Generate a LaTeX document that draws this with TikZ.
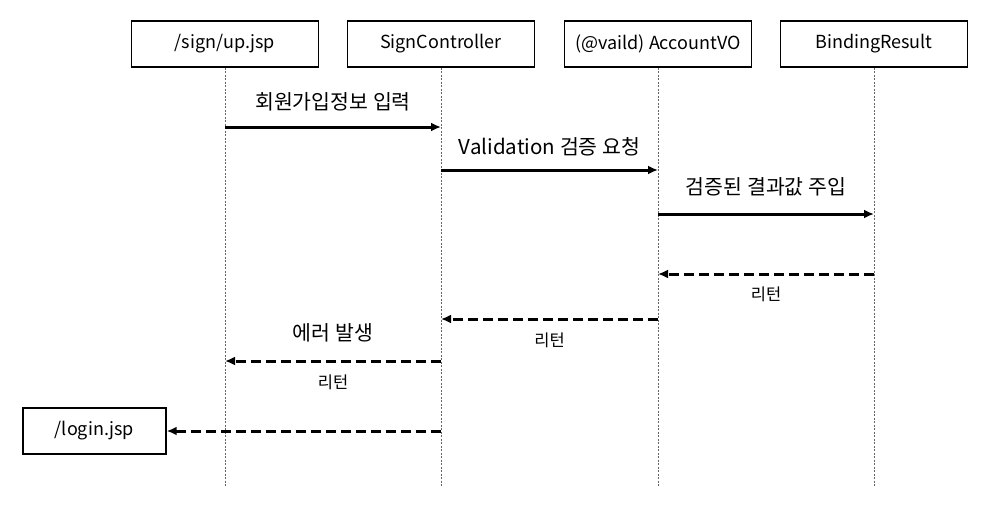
\documentclass[tikz,border=0pt]{standalone}
\usepackage{fontspec}
\setmainfont{Noto Sans CJK KR}
\usetikzlibrary{arrows.meta}
\begin{document}
\begin{tikzpicture}[x=1pt,y=1pt,
	obj/.style={draw,line width=1.4pt,minimum width=187pt,minimum height=46pt,font=\fontsize{18}{21}\selectfont},
	call/.style={line width=3pt,-{Latex[length=10pt,width=9pt]}},
	ret/.style={call,dash pattern=on 10pt off 5pt},
	msg/.style={font=\fontsize{20.5}{24}\selectfont},
	rtn/.style={font=\fontsize{16.5}{19}\selectfont},
	life/.style={draw=gray!80!black,line width=0.8pt,dash pattern=on 2pt off 1.5pt}]
	\useasboundingbox (0,0) rectangle (982,-512);
	\node[obj] (jsp) at (225,-44) {/sign/up.jsp};
	\node[obj] (ctrl) at (441,-44) {SignController};
	\node[obj] (vo) at (658,-44) {(@vaild) AccountVO};
	\node[obj] (br) at (874,-44) {BindingResult};
	\node[obj,minimum width=143pt] (login) at (94.5,-431) {/login.jsp};
	\foreach \n/\y in {m1/127,m2/170,m3/214,m4/274,m5/319,m6/361,m7/431,end/487}
		\coordinate (\n) at (0,-\y);
	\foreach \o in {jsp,ctrl,vo,br}
		\draw[life] (\o.south) -- (\o |- end);
	\path
	(jsp |- m1) edge[call] node[msg,midway,yshift=25pt] {회원가입정보 입력} (ctrl |- m1)
	(ctrl |- m2) edge[call] node[msg,midway,yshift=23pt] {Validation 검증 요청} (vo |- m2)
	(vo |- m3) edge[call] node[msg,midway,yshift=27pt] {검증된 결과값 주입} (br |- m3)
	(br |- m4) edge[ret] node[rtn,midway,yshift=-20pt] {리턴} (vo |- m4)
	(vo |- m5) edge[ret] node[rtn,midway,yshift=-21pt] {리턴} (ctrl |- m5)
	(ctrl |- m6) edge[ret] node[msg,midway,yshift=28pt] {에러 발생}
		node[rtn,midway,yshift=-21pt] {리턴} (jsp |- m6)
	(ctrl |- m7) edge[ret] (login.east);
\end{tikzpicture}
\end{document}
